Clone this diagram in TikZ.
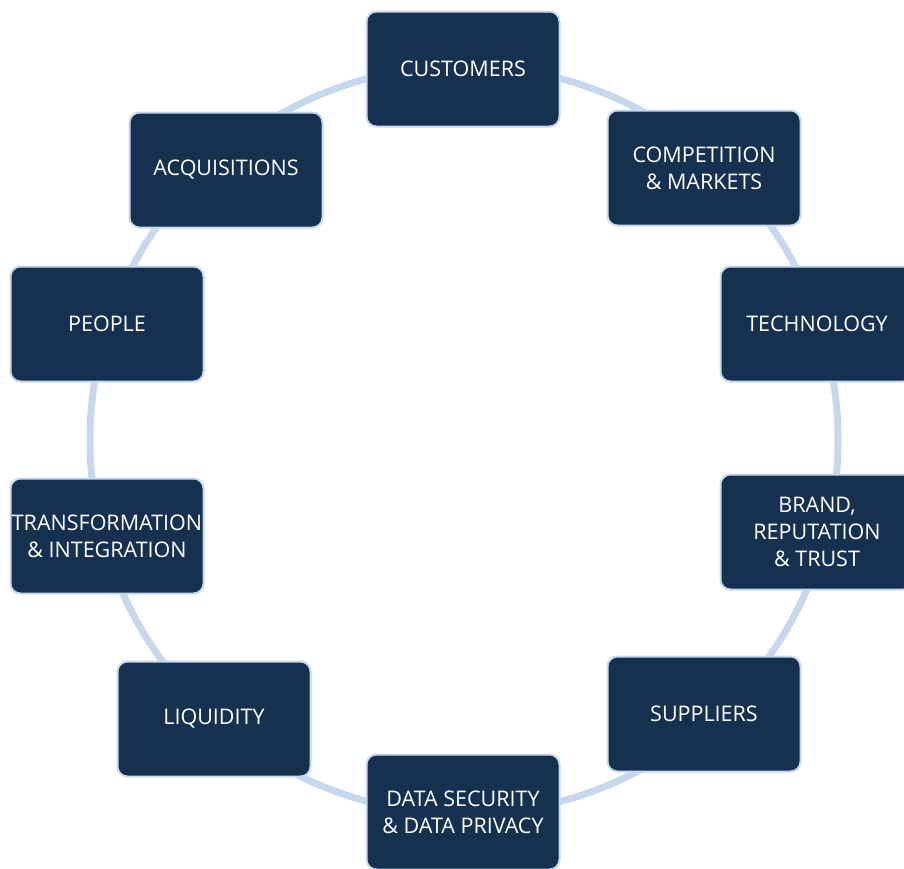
\documentclass[tikz,border=0pt]{standalone}
\usepackage{fontspec}
\setmainfont{Open Sans}
\usetikzlibrary{positioning}

\definecolor{boxnavy}{RGB}{21,49,79}
\definecolor{ringblue}{RGB}{200,216,236}

\begin{document}
\begin{tikzpicture}[
    x=1pt, y=-1pt,
    every node/.style={draw=ringblue, line width=2pt, fill=boxnavy, rounded corners=10pt,
        text=white, font=\fontsize{21.5}{27}\selectfont, align=center,
        minimum width=193pt, minimum height=115pt, inner sep=0pt},
    ring/.style={draw=ringblue, line width=7pt}]

\useasboundingbox (0,0) rectangle (904,868);

% the ring behind the boxes
\draw[ring] (464,440) circle[radius=374];

\node (customers) at (463,69) {CUSTOMERS};
\node (competition) at (704,168) {COMPETITION\\ \& MARKETS};
\node (technology) at (817,324) {TECHNOLOGY};
\node (brand) at (817,532) {BRAND,\\ REPUTATION\\ \& TRUST};
\node (suppliers) at (704,714) {SUPPLIERS};
\node (datasecurity) at (463,812) {DATA SECURITY\\ \& DATA PRIVACY};
\node (liquidity) at (214,719) {LIQUIDITY};
\node (transformation) at (107,536) {TRANSFORMATION\\ \& INTEGRATION};
\node (people) at (107,324) {PEOPLE};
\node (acquisitions) at (226,170) {ACQUISITIONS};

\end{tikzpicture}
\end{document}
